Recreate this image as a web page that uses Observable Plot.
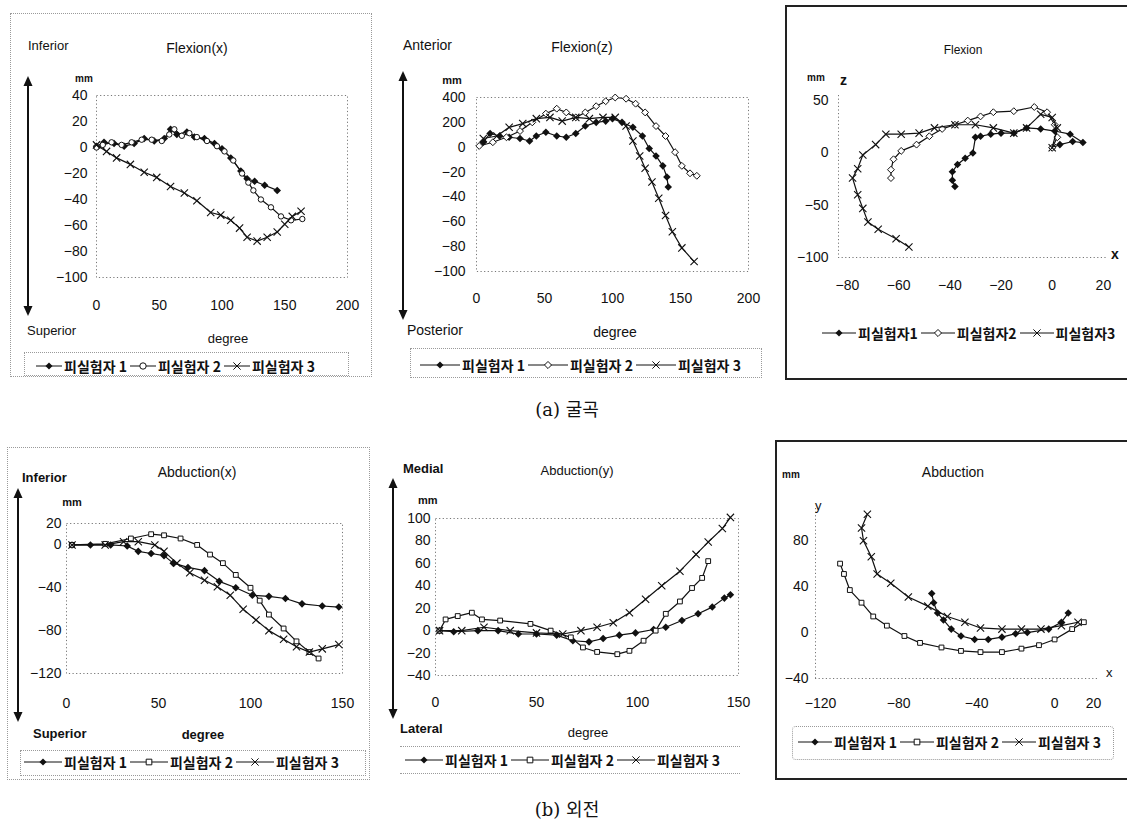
<!DOCTYPE html>
<html><head><meta charset="utf-8">
<script src="https://cdn.jsdelivr.net/npm/d3@7"></script>
<script src="https://cdn.jsdelivr.net/npm/@observablehq/plot@0.6"></script>
<style>
body{margin:0;background:#fff;}
#page{position:relative;width:1127px;height:827px;overflow:hidden;background:#fff;font-family:"Liberation Sans",Arial,"Noto Sans CJK KR",sans-serif;color:#111;}
.lab{position:absolute;font-size:13px;white-space:nowrap;line-height:1;}
.box{position:absolute;box-sizing:border-box;}
.leg{position:absolute;display:flex;align-items:center;white-space:nowrap;font-size:14px;font-weight:bold;font-family:"Noto Sans CJK KR","Liberation Sans",sans-serif;transform:translateY(-50%);}
.leg span{margin:0 3px 0 2px;}
</style></head><body><div id="page"></div>
<script>
// ---------- data ----------
const seriesNames = ["피실험자 1", "피실험자 2", "피실험자 3"];
const seriesNamesTight = ["피실험자1", "피실험자2", "피실험자3"];
const captions = ["(a) 굴곡", "(b) 외전"];

// Flexion(x): [degree, mm]
const flexX_s1 = [[0,1],[6,4],[14,3],[22,1],[30,3],[38,7],[46,5],[54,7],[59,14],[64,10],[72,12],[78,8],[86,7],[94,3],[100,-1],[107,-8],[115,-18],[120,-24],[126,-26],[134,-29],[144,-33]];
const flexX_s2 = [[0,0],[5,2],[12,4],[20,2],[28,4],[36,6],[44,6],[52,5],[58,10],[62,14],[68,9],[74,11],[80,8],[88,5],[96,1],[102,-3],[109,-10],[116,-20],[121,-27],[125,-33],[131,-40],[139,-46],[147,-53],[155,-56],[164,-55]];
const flexX_s3 = [[0,2],[8,-3],[16,-8],[27,-13],[38,-19],[48,-23],[59,-30],[70,-35],[80,-41],[91,-50],[99,-52],[107,-56],[114,-62],[120,-69],[128,-72],[136,-69],[144,-65],[150,-59],[156,-53],[163,-49]];
const flexX_xTicks = [0,50,100,150,200];
const flexX_yTicks = [40,20,0,-20,-40,-60,-80,-100];
const flexX_yLabels = ["40","20","0","−20","−40","−60","−80","−100"];

// Flexion(z): [degree, mm]
const flexZ_s1 = [[5,4],[10,11],[17,9],[24,8],[32,7],[39,5],[44,9],[51,12],[59,9],[66,8],[73,11],[80,17],[88,20],[95,21],[100,23],[107,20],[115,16],[122,9],[127,-1],[132,-7],[137,-15],[140,-24],[141,-32]];
const flexZ_s2 = [[2,1],[12,4],[22,8],[32,13],[41,20],[51,27],[59,31],[66,28],[73,24],[80,28],[88,33],[95,37],[102,40],[110,39],[117,35],[124,28],[132,17],[139,9],[146,-4],[151,-15],[157,-21],[162,-23]];
const flexZ_s3 = [[5,7],[15,9],[24,16],[34,19],[44,23],[54,24],[63,21],[73,24],[83,23],[93,24],[102,24],[110,17],[115,5],[120,-7],[124,-17],[129,-28],[134,-41],[139,-55],[144,-68],[151,-81],[160,-92]];
const flexZ_xTicks = [0,50,100,150,200];
const flexZ_yTicks = [40,20,0,-20,-40,-60,-80,-100];
const flexZ_yLabels = ["400","200","0","−20","−40","−60","−80","−100"];

// Flexion x–z: [x mm, z mm]
const flexXZ_s1 = [[0,5],[3,8],[8,11],[12,10],[7,18],[1,21],[-4.5,23],[-10,24],[-15,19],[-20,19],[-24,18],[-28,16],[-30,15],[-31,0],[-34,-5],[-37,-11],[-39,-18],[-39,-26],[-38,-32]];
const flexXZ_s2 = [[0,5],[2,15],[1,27],[-2,39],[-7,44],[-15,40],[-23,39],[-28,35],[-33,31],[-38,27],[-43,23],[-48,16],[-53,8],[-59,2],[-62,-6],[-63,-16],[-63,-24]];
const flexXZ_s3 = [[0,5],[2,24],[0,34],[-4.5,37],[-10,24],[-15,19],[-23,24],[-30,27],[-38,27],[-46,24],[-52,19],[-59,18],[-65,18],[-69,8],[-74,-2],[-76,-15],[-78,-24],[-76,-40],[-74,-53],[-72,-66],[-68,-73],[-61,-82],[-56,-90]];
const flexXZ_xTicks = [-80,-60,-40,-20,0,20];
const flexXZ_yTicks = [50,0,-50,-100];

// Abduction(x): [degree, mm]
const abdX_s1 = [[3,0],[13,0],[24,0],[33,-1],[39,-6],[46,-8],[53,-10],[58,-17],[66,-21],[75,-24],[83,-34],[92,-40],[101,-47],[110,-48],[119,-50],[128,-55],[139,-57],[148,-58]];
const abdX_s2 = [[3,0],[21,1],[35,6],[46,10],[53,9],[62,6],[71,0],[78,-9],[85,-17],[92,-28],[100,-40],[105,-52],[110,-65],[118,-78],[125,-90],[132,-100],[137,-106]];
const abdX_s3 = [[3,0],[21,0],[31,3],[39,3],[48,0],[53,-6],[60,-17],[67,-26],[75,-33],[82,-39],[89,-47],[96,-60],[103,-70],[110,-80],[118,-88],[125,-95],[132,-100],[139,-97],[148,-93]];
const abdX_xTicks = [0,50,100,150];
const abdX_yTicks = [20,0,-40,-80,-120];

// Abduction(y): [degree, mm]
const abdY_s1 = [[2,0],[9,-1],[21,0],[31,0],[41,-3],[50,-3],[60,-4],[68,-9],[76,-10],[83,-7],[91,-4],[99,-2],[108,1],[114,3],[122,9],[130,15],[137,21],[143,29],[146,32]];
const abdY_s2 = [[2,0],[5,10],[11,13],[18,16],[23,10],[32,9],[47,6],[57,0],[67,-6],[73,-15],[80,-19],[90,-21],[96,-18],[103,-9],[109,0],[114,15],[121,26],[127,38],[132,47],[135,62]];
const abdY_s3 = [[2,0],[13,0],[24,3],[37,0],[50,-2],[63,-3],[72,0],[80,3],[88,7],[96,16],[104,28],[112,40],[121,53],[129,68],[135,79],[142,91],[146,101]];
const abdY_xTicks = [0,50,100,150];
const abdY_yTicks = [100,80,60,40,20,0,-20,-40];

// Abduction x–y: [x mm, y mm]
const abdXY_s1 = [[7,17],[3.5,9],[-3,3],[-14,0],[-20,-1],[-27,-4],[-34,-6],[-41,-6],[-48,-3],[-53,3],[-57,11],[-60,17],[-62,26],[-63,34]];
const abdXY_s2 = [[15,9],[9,3],[0,-6],[-8,-11],[-17,-14],[-27,-17],[-38,-17],[-48,-16],[-58,-13],[-69,-9],[-77,-3],[-86,6],[-93,14],[-99,26],[-105,37],[-108,51],[-110,60]];
const abdXY_s3 = [[12,9],[3.5,6],[-7,3],[-17,3],[-27,3],[-38,4],[-46,9],[-55,14],[-65,23],[-75,31],[-84,43],[-91,51],[-94,66],[-98,80],[-99,91],[-96,103]];
const abdXY_xTicks = [-120,-80,-40,0,20];
const abdXY_yTicks = [80,40,0,-40];

// ---------- helpers ----------
const page = document.getElementById("page");
const NS = "http://www.w3.org/2000/svg";
const INK = "#111";

function addText(txt, x, y, o = {}) {
  const d = document.createElement("div");
  d.className = "lab";
  d.textContent = txt;
  d.style.left = x + "px"; d.style.top = y + "px";
  d.style.transform = o.center ? "translate(-50%,-50%)" : "translate(0,-50%)";
  if (o.size) d.style.fontSize = o.size + "px";
  if (o.weight) d.style.fontWeight = o.weight;
  if (o.family) d.style.fontFamily = o.family;
  page.appendChild(d);
}
function addBox(x, y, w, h, border) {
  const d = document.createElement("div");
  d.className = "box";
  Object.assign(d.style, {left: x + "px", top: y + "px", width: w + "px", height: h + "px"});
  Object.assign(d.style, border);
  page.appendChild(d);
}
function addArrow(x, y0, y1) {
  const h = y1 - y0;
  const s = document.createElementNS(NS, "svg");
  s.setAttribute("width", 16); s.setAttribute("height", h);
  Object.assign(s.style, {position: "absolute", left: (x - 8) + "px", top: y0 + "px"});
  s.innerHTML = `<line x1="8" x2="8" y1="8" y2="${h - 8}" stroke="${INK}" stroke-width="2"/>` +
    `<path d="M8,0L3.5,10H12.5Z" fill="${INK}"/><path d="M8,${h}L3.5,${h - 10}H12.5Z" fill="${INK}"/>`;
  page.appendChild(s);
}
const symStyle = {
  diamond: {symbol: "diamond2", fill: INK, stroke: "none", r: 3.4},
  circle: {symbol: "circle", fill: "#fff", stroke: INK, strokeWidth: 1, r: 2.7},
  odiamond: {symbol: "diamond2", fill: "#fff", stroke: INK, strokeWidth: 1, r: 3.1},
  square: {symbol: "square", fill: "#fff", stroke: INK, strokeWidth: 1, r: 2.7},
  times: {symbol: "times", fill: "none", stroke: INK, strokeWidth: 1.1, r: 3.4}
};
const d3sym = {diamond: d3.symbolDiamond2, circle: d3.symbolCircle, odiamond: d3.symbolDiamond2, square: d3.symbolSquare, times: d3.symbolTimes};

function legend(x, y, names, kinds, lineLen) {
  const d = document.createElement("div");
  d.className = "leg";
  d.style.left = x + "px"; d.style.top = y + "px";
  names.forEach((n, i) => {
    const s = document.createElementNS(NS, "svg");
    const w = lineLen;
    s.setAttribute("width", w); s.setAttribute("height", 12);
    const st = symStyle[kinds[i]];
    const path = d3.symbol(d3sym[kinds[i]], kinds[i] === "times" ? 36 : 32)();
    s.innerHTML = `<line x1="0" x2="${w}" y1="6" y2="6" stroke="${INK}" stroke-width="1"/>` +
      `<path transform="translate(${w / 2},6)" d="${path}" fill="${st.fill}" stroke="${st.stroke}" stroke-width="1"/>`;
    d.appendChild(s);
    const t = document.createElement("span");
    t.textContent = n;
    d.appendChild(t);
  });
  page.appendChild(d);
}

function drawPanel(p) {
  const dashed = {stroke: "#777", strokeDasharray: "1.2,2.4", strokeWidth: 1};
  const marks = [];
  if (p.box) marks.push(Plot.frame(dashed));
  else marks.push(Plot.ruleX([p.xDomain[0]], dashed), Plot.ruleY([p.yDomain[0]], dashed));
  p.series.forEach((pts, i) => {
    const data = pts.map(([x, y]) => ({x, y}));
    marks.push(Plot.line(data, {x: "x", y: "y", stroke: INK, strokeWidth: 1.2}));
    marks.push(Plot.dot(data, {x: "x", y: "y", ...symStyle[p.kinds[i]]}));
  });
  const minus = v => String(v).replace("-", "−");
  const yfmt = p.yLabels ? (v => p.yLabels[p.yTicks.indexOf(v)]) : minus;
  const svg = Plot.plot({
    width: p.W, height: p.H,
    marginLeft: p.x0 - p.L, marginRight: p.L + p.W - p.x1,
    marginTop: p.y0 - p.T, marginBottom: p.T + p.H - p.y1,
    x: {domain: p.xDomain, ticks: p.xTicks, tickFormat: minus, tickSize: 0, tickPadding: p.padX, label: null},
    y: {domain: p.yDomain, ticks: p.yTicks, tickFormat: yfmt, tickSize: 0, tickPadding: p.padY, label: null},
    style: {fontSize: (p.fs || 14) + "px", fontFamily: '"Liberation Sans", Arial, sans-serif', background: "transparent", color: INK, overflow: "visible"},
    marks
  });
  Object.assign(svg.style, {position: "absolute", left: p.L + "px", top: p.T + "px"});
  page.appendChild(svg);
}

// ---------- decorations (borders) ----------
const dotB = {border: "1px dotted #9a9a9a"};
addBox(10, 13, 362, 364, dotB);
addBox(24, 352, 325, 24, dotB);
addBox(410, 348, 352, 30, dotB);
addBox(785, 5, 360, 375, {borderLeft: "2px solid #222", borderTop: "2px solid #222", borderBottom: "2px solid #222"});
addBox(7, 447, 363, 333, dotB);
addBox(20, 750, 346, 26, dotB);
addBox(400, 746, 340, 28, {borderTop: "1px dotted #9a9a9a", borderBottom: "1px dotted #9a9a9a"});
addBox(775, 440, 370, 340, {borderLeft: "2px solid #222", borderTop: "2px solid #222", borderBottom: "2px solid #222"});
addBox(792, 726, 322, 34, {border: "1px dotted #9a9a9a", borderRadius: "4px"});

// ---------- panels ----------
drawPanel({L: 0, T: 0, W: 375, H: 370, x0: 96, x1: 347, y0: 95, y1: 277, xDomain: [0, 200], yDomain: [-100, 40],
  xTicks: flexX_xTicks, yTicks: flexX_yTicks, yLabels: flexX_yLabels, padX: 23, padY: 9, box: true,
  series: [flexX_s1, flexX_s2, flexX_s3], kinds: ["diamond", "circle", "times"]});
drawPanel({L: 375, T: 0, W: 390, H: 370, x0: 476, x1: 748, y0: 97, y1: 271, xDomain: [0, 200], yDomain: [-100, 40],
  xTicks: flexZ_xTicks, yTicks: flexZ_yTicks, yLabels: flexZ_yLabels, padX: 22, padY: 11, box: true,
  series: [flexZ_s1, flexZ_s2, flexZ_s3], kinds: ["diamond", "odiamond", "times"]});
drawPanel({L: 787, T: 7, W: 340, H: 372, x0: 838, x1: 1108, y0: 95, y1: 257, xDomain: [-83.5, 22], yDomain: [-100, 55],
  xTicks: flexXZ_xTicks, yTicks: flexXZ_yTicks, padX: 23, padY: 10, box: false,
  series: [flexXZ_s1, flexXZ_s2, flexXZ_s3], kinds: ["diamond", "odiamond", "times"]});
drawPanel({L: 7, T: 447, W: 365, H: 333, x0: 66, x1: 342, y0: 523, y1: 673, xDomain: [0, 150], yDomain: [-120, 20],
  xTicks: abdX_xTicks, yTicks: abdX_yTicks, padX: 25, padY: 5, box: true,
  series: [abdX_s1, abdX_s2, abdX_s3], kinds: ["diamond", "square", "times"]});
drawPanel({L: 385, T: 440, W: 375, H: 340, x0: 435, x1: 738, y0: 518, y1: 675, xDomain: [0, 150], yDomain: [-40, 100],
  xTicks: abdY_xTicks, yTicks: abdY_yTicks, padX: 22, padY: 5, box: true,
  series: [abdY_s1, abdY_s2, abdY_s3], kinds: ["diamond", "square", "times"]});
drawPanel({L: 777, T: 442, W: 350, H: 337, x0: 815, x1: 1097, y0: 508, y1: 678, xDomain: [-122.6, 22], yDomain: [-40, 108],
  xTicks: abdXY_xTicks, yTicks: abdXY_yTicks, padX: 20, padY: 7, box: false,
  series: [abdXY_s1, abdXY_s2, abdXY_s3], kinds: ["diamond", "square", "times"]});

// ---------- labels ----------
addText("Inferior", 28, 45); addText("Flexion(x)", 197, 48, {center: true, size: 14}); addText("mm", 75, 79, {size: 10, weight: "bold"});
addText("Superior", 27, 330); addText("degree", 228, 338, {center: true});
addArrow(28, 76, 316);
addText("Anterior", 403, 45, {size: 14}); addText("Flexion(z)", 582, 47, {center: true, size: 14}); addText("mm", 452, 80, {center: true, size: 11, weight: "bold"});
addText("Posterior", 407, 330, {size: 14}); addText("degree", 615, 332, {center: true, size: 14});
addArrow(403, 71, 320);
addText("Flexion", 963, 50, {center: true, size: 12}); addText("mm", 807, 78, {size: 10, weight: "bold"}); addText("z", 840, 80, {size: 14, weight: "bold"});
addText("x", 1111, 254, {size: 14, weight: "bold"});
addText("Inferior", 22, 477, {weight: "bold"}); addText("Abduction(x)", 197, 472, {center: true, size: 14}); addText("mm", 72, 502, {center: true, size: 11, weight: "bold"});
addText("Superior", 33, 733, {weight: "bold"}); addText("degree", 203, 734, {center: true, weight: "bold"});
addArrow(18, 488, 722);
addText("Medial", 403, 468, {weight: "bold"}); addText("Abduction(y)", 577, 470, {center: true}); addText("mm", 418, 500, {size: 11, weight: "bold"});
addText("Lateral", 400, 728, {weight: "bold"}); addText("degree", 588, 732, {center: true});
addArrow(393, 478, 719);
addText("Abduction", 953, 472, {center: true, size: 14}); addText("mm", 782, 475, {size: 10, weight: "bold"}); addText("y", 815, 505, {size: 13});
addText("x", 1106, 672, {size: 13});

// ---------- legends ----------
legend(36, 366, seriesNames, ["diamond", "circle", "times"], 26);
legend(420, 365, seriesNames, ["diamond", "odiamond", "times"], 40);
legend(822, 333, seriesNamesTight, ["diamond", "odiamond", "times"], 34);
legend(24, 762, seriesNames, ["diamond", "square", "times"], 38);
legend(405, 760, seriesNames, ["diamond", "square", "times"], 38);
legend(798, 742, seriesNames, ["diamond", "square", "times"], 34);

// ---------- captions ----------
addText(captions[0], 567, 410, {center: true, size: 18, family: '"DejaVu Serif", "Noto Sans CJK KR", serif'});
addText(captions[1], 567, 810, {center: true, size: 18, family: '"DejaVu Serif", "Noto Sans CJK KR", serif'});
</script></body></html>
